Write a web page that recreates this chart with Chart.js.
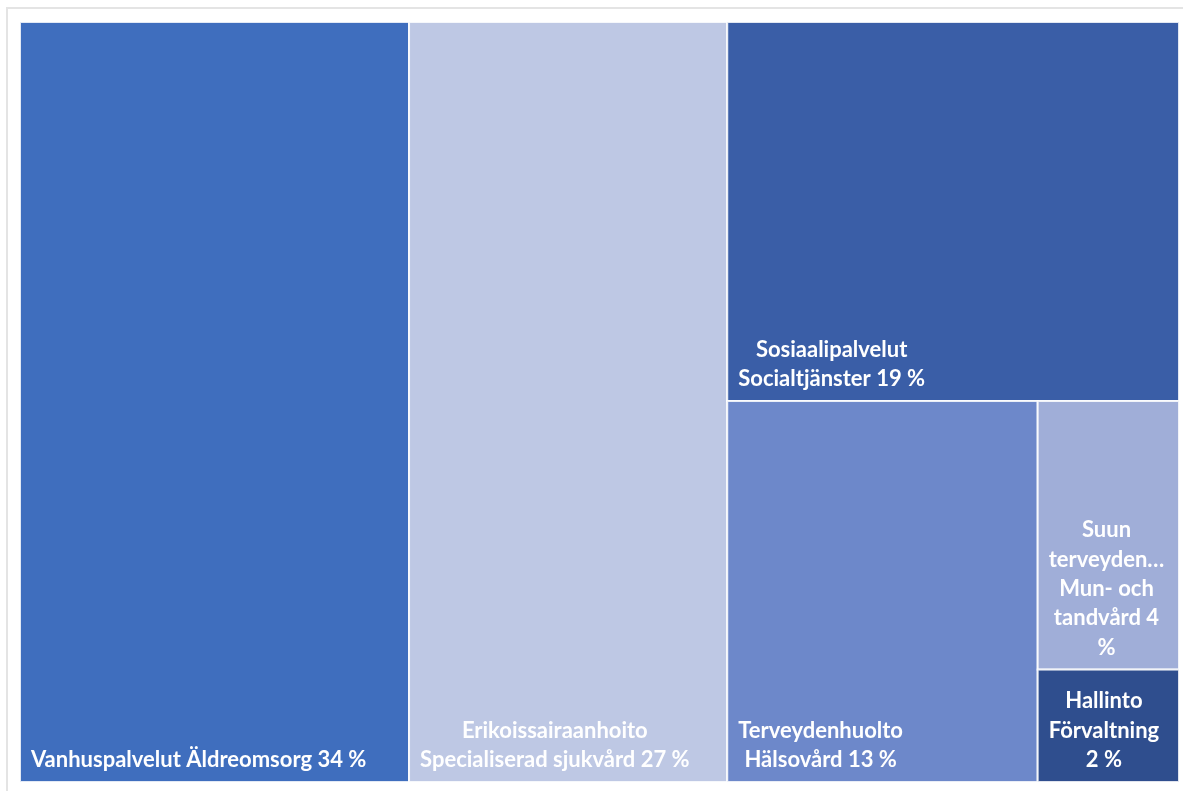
<!DOCTYPE html>
<html>
<head>
<meta charset="utf-8">
<script src="https://cdn.jsdelivr.net/npm/chart.js@4"></script>
<style>
  html, body { margin: 0; padding: 0; background: #ffffff; overflow: hidden; }
  #frame { position: absolute; left: 6px; top: 7px; width: 1300px; height: 900px; border: 2px solid #e4e4e4; box-sizing: border-box; }
  #wrap { position: absolute; left: 0; top: 0; width: 1183px; height: 791px; }
</style>
</head>
<body>
<div id="frame"></div>
<div id="wrap"><canvas id="c"></canvas></div>
<script>
// ---- data ----
const categories = [
  "Vanhuspalvelut Äldreomsorg",
  "Erikoissairaanhoito\nSpecialiserad sjukvård",
  "Sosiaalipalvelut\nSocialtjänster",
  "Terveydenhuolto\nHälsovård",
  "Suun terveyden…\nMun- och tandvård",
  "Hallinto\nFörvaltning"
];
const values = [33.5, 27.4, 19.4, 13.4, 4.3, 1.8];
const colors = ["#3F6EBE", "#BEC8E4", "#3A5EA7", "#6D88CA", "#A0AED8", "#2F4E8E"];

// strip layout: each item takes a strip across the shorter side of the remaining rectangle
function layout(vals, W, H) {
  let rect = { x: 0, y: 0, w: W, h: H };
  let total = vals.reduce((a, b) => a + b, 0);
  const cells = [];
  vals.forEach((v, i) => {
    if (i === vals.length - 1) { cells.push({ ...rect }); return; }
    if (rect.w >= rect.h) {
      const w = rect.w * v / total;
      cells.push({ x: rect.x, y: rect.y, w: w, h: rect.h });
      rect.x += w; rect.w -= w;
    } else {
      const h = rect.h * v / total;
      cells.push({ x: rect.x, y: rect.y, w: rect.w, h: h });
      rect.y += h; rect.h -= h;
    }
    total -= v;
  });
  return cells;
}

function wrapText(ctx, text, maxW) {
  const out = [];
  text.split("\n").forEach(seg => {
    const words = seg.split(" ");
    let line = "";
    words.forEach(w => {
      const test = line ? line + " " + w : w;
      if (line && ctx.measureText(test).width > maxW) { out.push(line); line = w; }
      else line = test;
    });
    if (line) out.push(line);
  });
  return out;
}

const treemapPlugin = {
  id: "treemap",
  beforeDatasetsDraw(chart) {
    const { ctx, chartArea, scales } = chart;
    const W = chartArea.right - chartArea.left;
    const H = chartArea.bottom - chartArea.top;
    const cells = layout(values, W, H);
    ctx.save();
    cells.forEach((c, i) => {
      const x0 = scales.x.getPixelForValue(c.x / W);
      const x1 = scales.x.getPixelForValue((c.x + c.w) / W);
      const y0 = scales.y.getPixelForValue(c.y / H);
      const y1 = scales.y.getPixelForValue((c.y + c.h) / H);
      ctx.fillStyle = colors[i];
      ctx.fillRect(x0, y0, x1 - x0, y1 - y0);
      ctx.strokeStyle = "rgba(255,255,255,0.85)";
      ctx.lineWidth = 2;
      ctx.strokeRect(x0, y0, x1 - x0, y1 - y0);

      // label
      ctx.font = "bold 22px Lato";
      ctx.fillStyle = "#ffffff";
      ctx.textBaseline = "middle";
      ctx.textAlign = "center";
      const text = categories[i] + " " + Math.round(values[i]) + " %";
      const pad = 11;
      const lines = wrapText(ctx, text, (x1 - x0) - 2 * pad);
      const blockW = Math.max(...lines.map(l => ctx.measureText(l).width));
      let bx = x0 + pad;
      if (blockW > (x1 - x0) - 2 * pad) bx = x0 + ((x1 - x0) - blockW) / 2;
      const cx = bx + blockW / 2;
      const lh = 29.3;
      const lastY = y1 - 22;
      lines.forEach((l, k) => {
        ctx.fillText(l, cx, lastY - (lines.length - 1 - k) * lh);
      });
    });
    ctx.restore();
  }
};

new Chart(document.getElementById("c"), {
  type: "scatter",
  data: { datasets: [{ data: [] }] },
  options: {
    responsive: true,
    maintainAspectRatio: false,
    animation: false,
    layout: { padding: { left: 20, top: 22, right: 4, bottom: 9 } },
    plugins: { legend: { display: false }, tooltip: { enabled: false } },
    scales: {
      x: { type: "linear", min: 0, max: 1, display: false },
      y: { type: "linear", min: 0, max: 1, reverse: true, display: false }
    }
  },
  plugins: [treemapPlugin]
});
</script>
</body>
</html>
